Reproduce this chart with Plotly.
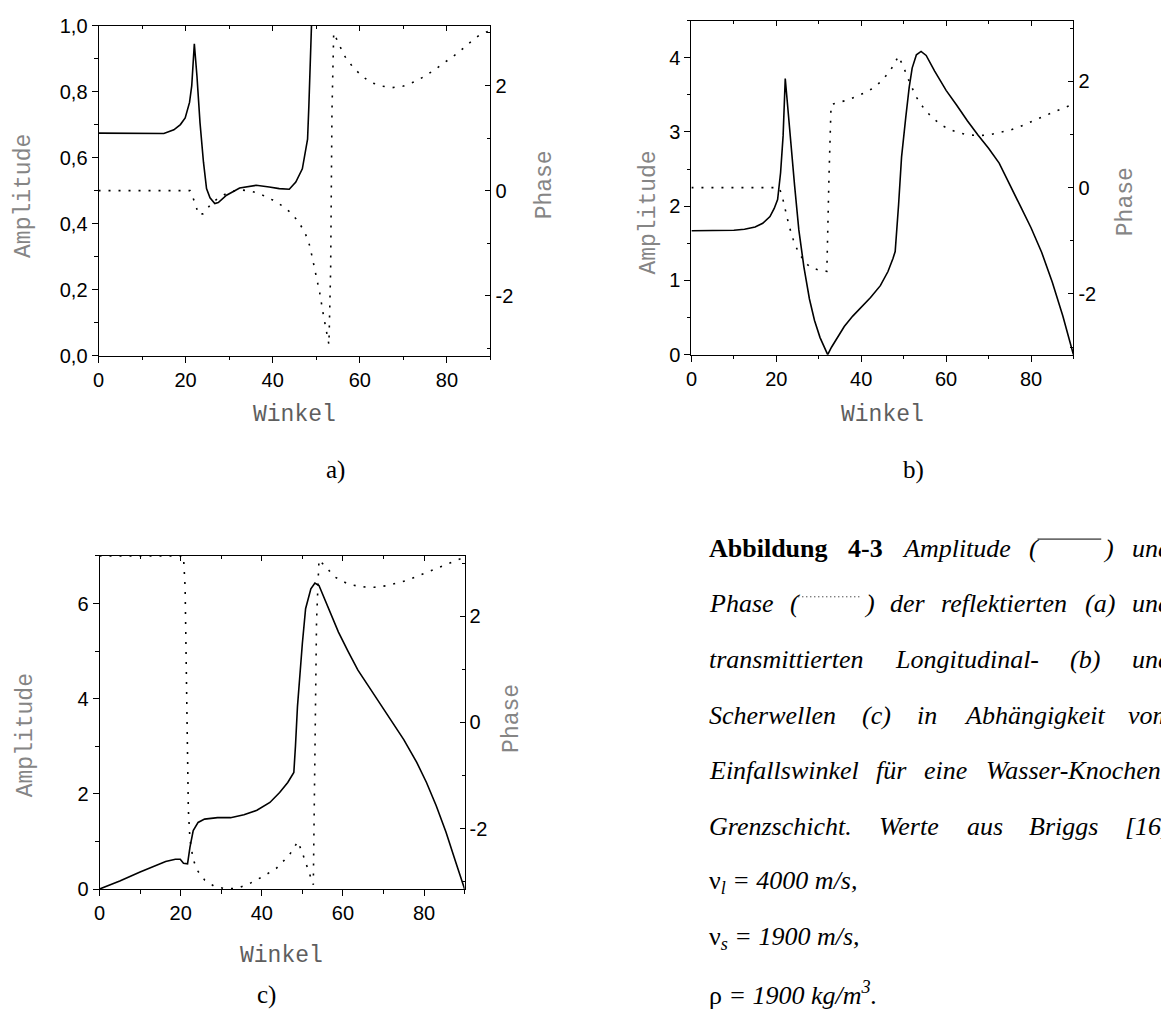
import plotly.graph_objects as go

# ---------------- data ----------------
# Panel a) reflected wave
angle_a_amp = [0, 5, 10, 15, 17.3, 18.8, 19.9, 20.9, 21.4, 22.0, 22.6, 23.3, 24.1, 24.8,
               25.6, 26.7, 27.5, 29.4, 32.4, 36.2, 39.2, 41.5, 43.8, 45.3, 46.8, 48.0,
               48.3, 48.9]
amp_a = [0.674, 0.673, 0.672, 0.673, 0.684, 0.70, 0.72, 0.767, 0.817, 0.945, 0.847, 0.706,
         0.586, 0.506, 0.478, 0.461, 0.464, 0.486, 0.508, 0.516, 0.511, 0.506, 0.504, 0.526,
         0.566, 0.656, 0.757, 1.0]
angle_a_phase = [0, 5, 10, 15, 20, 21.0, 22.0, 23.0, 24.0, 25.0, 26.0, 27.5, 29.5, 31.5,
                 33.0, 35.0, 37.0, 40.0, 42.0, 44.0, 46.0, 47.5, 48.5, 49.2, 50.0, 50.8,
                 51.6, 52.3, 52.9, 53.3, 53.6, 54.0, 55.0, 56.5, 58.5, 60.5, 62.5, 65.0,
                 67.5, 70.0, 72.5, 75.0, 77.5, 80.0, 82.5, 85.0, 87.5, 90.0]
phase_a = [0, 0, 0, 0, 0, 0, -0.2, -0.46, -0.44, -0.33, -0.24, -0.14, -0.05, 0.0,
           0.01, -0.01, -0.06, -0.18, -0.28, -0.41, -0.6, -0.82, -1.05, -1.32, -1.62, -1.95,
           -2.35, -2.68, -2.93, -1.5, 1.5, 3.0, 2.82, 2.56, 2.34, 2.18, 2.06, 1.99,
           1.96, 1.99, 2.07, 2.18, 2.32, 2.47, 2.62, 2.8, 2.96, 3.05]

# Panel b) transmitted longitudinal wave
angle_b_amp = [0, 5, 10, 12.5, 15, 16.8, 18.5, 19.5, 20.3, 21.0, 21.6, 22.1, 22.6, 23.3,
               24.3, 25.3, 26.5, 27.8, 29.0, 30.3, 31.3, 32.1, 33.0, 34.3, 36.0, 38.0,
               40.0, 42.2, 44.5, 46.3, 47.5, 48.0, 48.8, 49.5, 50.5, 51.3, 52.0, 53.0,
               54.1, 55.3, 57.3, 60.0, 62.5, 65.0, 67.5, 70.0, 72.5, 75.0, 77.5, 80.0,
               82.5, 85.0, 87.5, 90.0]
amp_b = [1.67, 1.67, 1.675, 1.69, 1.72, 1.77, 1.86, 1.97, 2.09, 2.45, 2.95, 3.72, 3.38, 2.95,
         2.28, 1.68, 1.18, 0.75, 0.46, 0.23, 0.09, 0.0, 0.1, 0.23, 0.38, 0.52,
         0.64, 0.77, 0.93, 1.12, 1.3, 1.39, 2.02, 2.66, 3.2, 3.6, 3.86, 4.04,
         4.085, 4.03, 3.82, 3.56, 3.36, 3.15, 2.96, 2.78, 2.58, 2.3, 2.0, 1.71,
         1.38, 0.98, 0.52, 0.0]
angle_b_phase = [0, 5, 10, 15, 20.5, 21.2, 22.0, 23.0, 24.0, 25.0, 26.5, 28.0, 30.0, 31.9,
                 32.4, 32.9, 34.5, 36.5, 39.0, 41.0, 43.0, 45.0, 47.0, 48.8, 50.2, 51.5,
                 53.0, 55.0, 57.0, 59.0, 61.0, 63.0, 65.5, 68.0, 70.0, 72.5, 75.0, 77.5,
                 80.0, 82.5, 85.0, 87.5, 90.0]
phase_b = [0, 0, 0, 0, 0, -0.1, -0.38, -0.72, -0.98, -1.18, -1.38, -1.5, -1.55, -1.575,
           0.2, 1.56, 1.6, 1.64, 1.72, 1.79, 1.88, 2.02, 2.22, 2.475, 2.22, 1.96,
           1.7, 1.46, 1.3, 1.17, 1.09, 1.03, 0.99, 0.98, 0.99, 1.03, 1.08, 1.15,
           1.24, 1.33, 1.41, 1.49, 1.57]

# Panel c) transmitted shear wave
angle_c_amp = [0, 5, 10, 13.8, 16.3, 18.7, 19.9, 20.7, 21.7, 22.3, 23.1, 24.3, 25.9, 29.1,
               32.3, 35.6, 38.8, 42.0, 44.4, 46.4, 47.9, 48.3, 48.8, 50.0, 50.8, 52.1,
               53.1, 54.1, 55.7, 57.3, 58.9, 61.3, 63.7, 66.1, 68.5, 71.8, 75.0, 78.2,
               80.6, 83.0, 85.4, 87.8, 90.0]
amp_c = [0, 0.17, 0.36, 0.5, 0.58, 0.625, 0.625, 0.54, 0.53, 0.88, 1.23, 1.4, 1.47, 1.5,
         1.5, 1.56, 1.655, 1.82, 2.03, 2.24, 2.45, 3.0, 3.84, 5.16, 5.89, 6.31,
         6.43, 6.38, 6.06, 5.72, 5.4, 4.99, 4.6, 4.29, 3.98, 3.56, 3.14, 2.66,
         2.24, 1.75, 1.2, 0.57, 0.0]
angle_c_phase = [0, 10, 20.7, 21.1, 21.5, 21.9, 22.3, 23.1, 24.3, 25.9, 28.3, 30.7, 34.0,
                 37.2, 40.4, 43.6, 46.8, 48.9, 50.0, 51.6, 52.7, 53.1, 53.5, 54.1, 55.7,
                 58.1, 61.3, 64.5, 67.7, 70.9, 75.8, 80.6, 85.4, 90.0]
phase_c = [3.14, 3.14, 3.14, 2.55, 0.67, -1.65, -2.21, -2.59, -2.81, -2.97, -3.09, -3.13, -3.13,
           -3.03, -2.9, -2.75, -2.5, -2.245, -2.46, -2.84, -3.06, -0.58, 1.92, 3.07, 2.93,
           2.74, 2.61, 2.56, 2.55, 2.58, 2.68, 2.83, 2.99, 3.12]

# tick labels / titles
phase_tickvals = [-2, 0, 2]
phase_ticktext = ["-2", "0", "2"]
x_title = "Winkel"
amp_title = "Amplitude"
phase_title = "Phase"
panel_labels = ["a)", "b)", "c)"]

# ---------------- layout helpers ----------------
W, H = 1161, 1023
PI = 3.14159


def fx(s):
    return s / W


def fy(s):
    # vertical page position (px from top) -> paper fraction
    return 1 - (1.0132 * s - 4.4) / H


TICKFONT = dict(family="Liberation Sans, Arial, sans-serif", size=20, color="black")
TITLEFONT_GRAY = dict(family="Liberation Mono, Courier New, monospace", size=23, color="#858585")
TITLEFONT_X = dict(family="Liberation Mono, Courier New, monospace", size=23, color="#5e5e5e")
SERIF = "Liberation Serif, Times New Roman, serif"

panels = [
    dict(box=(93, 487, 19, 352), ax=angle_a_amp, ay=amp_a, px=angle_a_phase, py=phase_a,
         yrange=[0, 1.0], dtick=0.2, minor=0.1, fmt=".1f",
         amp_pos=(18, 191), phase_pos=(542, 180), x_pos=(290, 412), lab_pos=(331, 467)),
    dict(box=(689, 1073, 14, 351), ax=angle_b_amp, ay=amp_b, px=angle_b_phase, py=phase_b,
         yrange=[0, 4.5], dtick=1, minor=0.5, fmt="d",
         amp_pos=(646, 208), phase_pos=(1126, 197), x_pos=(881, 412), lab_pos=(912, 467)),
    dict(box=(94, 461, 554, 890), ax=angle_c_amp, ay=amp_c, px=angle_c_phase, py=phase_c,
         yrange=[0, 7], dtick=2, minor=1, fmt="d",
         amp_pos=(20, 735), phase_pos=(508, 718), x_pos=(277, 958), lab_pos=(262, 997)),
]

fig = go.Figure()
layout = dict(width=W, height=H, margin=dict(l=0, r=0, t=0, b=0),
              paper_bgcolor="white", plot_bgcolor="white", showlegend=False,
              separators=",.")
annotations = []
shapes = []


def xname(n):
    return "xaxis" if n == 1 else f"xaxis{n}"


def yname(n):
    return "yaxis" if n == 1 else f"yaxis{n}"


def xref(n):
    return "x" if n == 1 else f"x{n}"


def yref(n):
    return "y" if n == 1 else f"y{n}"


for i, p in enumerate(panels):
    xb, xt = 2 * i + 1, 2 * i + 2
    yl, yr = 2 * i + 1, 2 * i + 2
    x0, x1, y0, y1 = p["box"]
    xdom = [fx(x0), fx(x1)]
    ydom = [fy(y1), fy(y0)]

    fig.add_trace(go.Scatter(x=p["ax"], y=p["ay"], mode="lines",
                             line=dict(color="black", width=1.6),
                             xaxis=xref(xb), yaxis=yref(yl), hoverinfo="skip"))
    fig.add_trace(go.Scatter(x=p["px"], y=p["py"], mode="lines",
                             line=dict(color="black", width=1.6, dash="2px,8px"),
                             xaxis=xref(xt), yaxis=yref(yr), hoverinfo="skip"))

    common = dict(showline=True, linecolor="black", linewidth=1, showgrid=False,
                  zeroline=False, tickcolor="black", tickwidth=1, tickfont=TICKFONT,
                  ticklabeloverflow="allow")
    layout[xname(xb)] = dict(domain=xdom, range=[0, 90], tick0=0, dtick=20,
                             ticks="outside", ticklen=6, anchor=yref(yl),
                             minor=dict(dtick=10, ticks="outside", ticklen=3.5,
                                        tickcolor="black", tickwidth=1),
                             **common)
    layout[xname(xt)] = dict(overlaying=xref(xb), side="top", anchor=yref(yl),
                             range=[0, 90], tick0=0, dtick=20, ticks="inside", ticklen=5,
                             showticklabels=False,
                             minor=dict(dtick=10, ticks="inside", ticklen=3,
                                        tickcolor="black", tickwidth=1),
                             **common)
    layout[yname(yl)] = dict(domain=ydom, range=p["yrange"], tick0=0, dtick=p["dtick"],
                             tickformat=p["fmt"], ticks="outside", ticklen=6,
                             anchor=xref(xb),
                             minor=dict(dtick=p["minor"], ticks="outside", ticklen=3.5,
                                        tickcolor="black", tickwidth=1),
                             **common)
    layout[yname(yr)] = dict(overlaying=yref(yl), side="right", anchor=xref(xt),
                             range=[-PI, PI], tickmode="array", tickvals=phase_tickvals,
                             ticktext=phase_ticktext, ticks="inside", ticklen=5,
                             minor=dict(tickmode="linear", tick0=-3, dtick=1, ticks="inside",
                                        ticklen=3, tickcolor="black", tickwidth=1),
                             **common)

    ax_, ay_ = p["amp_pos"]
    annotations.append(dict(text=amp_title, x=fx(ax_), y=fy(ay_), xref="paper", yref="paper",
                            textangle=-90, showarrow=False, font=TITLEFONT_GRAY,
                            xanchor="center", yanchor="middle"))
    px_, py_ = p["phase_pos"]
    annotations.append(dict(text=phase_title, x=fx(px_), y=fy(py_), xref="paper", yref="paper",
                            textangle=-90, showarrow=False, font=TITLEFONT_GRAY,
                            xanchor="center", yanchor="middle"))
    wx, wy = p["x_pos"]
    annotations.append(dict(text=x_title, x=fx(wx), y=fy(wy), xref="paper", yref="paper",
                            showarrow=False, font=TITLEFONT_X,
                            xanchor="center", yanchor="middle"))
    lx, ly = p["lab_pos"]
    annotations.append(dict(text=panel_labels[i], x=fx(lx), y=fy(ly), xref="paper", yref="paper",
                            showarrow=False, font=dict(family=SERIF, size=25, color="black"),
                            xanchor="center", yanchor="middle"))

# ---------------- caption (justified, one annotation per word) ----------------
CAP_FS = 26
CAP_LEFT, CAP_RIGHT = 706, 1170
CAP_TOP, CAP_STEP = 546, 56.2
SAMPLE_W = 66

ITALIC_W = dict(a=.5, b=.5, c=.444, d=.5, e=.444, f=.278, g=.5, h=.5, i=.278, j=.278, k=.444,
                l=.278, m=.722, n=.5, o=.5, p=.5, q=.5, r=.389, s=.389, t=.278, u=.5, v=.444,
                w=.667, x=.444, y=.444, z=.389)
ITALIC_W.update({"ä": .5, "ü": .5, "A": .611, "B": .611, "E": .611, "G": .722, "K": .667,
                 "L": .556, "P": .611, "S": .5, "W": .833, "(": .333, ")": .333, "-": .333,
                 ".": .25, ",": .25, "[": .389, "]": .389, "1": .5, "6": .5})
BOLD_W = {"A": .722, "b": .556, "i": .278, "l": .278, "d": .556, "u": .556, "n": .556,
          "g": .5, "4": .5, "-": .333, "3": .5}

caption_lines = [
    [("Abbildung", "b"), ("4-3", "b"), ("Amplitude", "i"), ("solid", "sample"), ("und", "i")],
    [("Phase", "i"), ("dot", "sample"), ("der", "i"), ("reflektierten", "i"), ("(a)", "i"),
     ("und", "i")],
    [("transmittierten", "i"), ("Longitudinal-", "i"), ("(b)", "i"), ("und", "i")],
    [("Scherwellen", "i"), ("(c)", "i"), ("in", "i"), ("Abhängigkeit", "i"), ("vom", "i")],
    [("Einfallswinkel", "i"), ("für", "i"), ("eine", "i"), ("Wasser-Knochen-", "i")],
    [("Grenzschicht.", "i"), ("Werte", "i"), ("aus", "i"), ("Briggs", "i"), ("[16]", "i")],
]
caption_plain = [
    "ν<sub><i>l</i></sub><i> = 4000 m/s,</i>",
    "ν<sub><i>s</i></sub><i> = 1900 m/s,</i>",
    "ρ<i> = 1900 kg/m<sup>3</sup>.</i>",
]


def word_width(txt, style):
    if style == "sample":
        return 2 * 0.333 * CAP_FS + SAMPLE_W
    table = BOLD_W if style == "b" else ITALIC_W
    return sum(table.get(ch, 0.5) for ch in txt) * CAP_FS


def cap_annot(txt, x, yc):
    return dict(text=txt, x=fx(x), y=fy(yc), xref="paper", yref="paper", showarrow=False,
                font=dict(family=SERIF, size=CAP_FS, color="black"),
                xanchor="left", yanchor="middle", borderpad=0)


for li, words in enumerate(caption_lines):
    yc = CAP_TOP + CAP_STEP * li
    widths = [word_width(t, s) for t, s in words]
    gap = (CAP_RIGHT - CAP_LEFT - sum(widths)) / (len(words) - 1)
    x = CAP_LEFT
    for (txt, style), wdt in zip(words, widths):
        if style == "sample":
            annotations.append(cap_annot("<i>(</i>", x, yc))
            sx0 = x + 0.333 * CAP_FS + 1
            sx1 = sx0 + SAMPLE_W - 2
            annotations.append(cap_annot("<i>)</i>", sx1 + 1, yc))
            if txt == "solid":
                shapes.append(dict(type="line", xref="paper", yref="paper",
                                   x0=fx(sx0), x1=fx(sx1), y0=fy(yc - 9), y1=fy(yc - 9),
                                   line=dict(color="black", width=1)))
            else:
                shapes.append(dict(type="line", xref="paper", yref="paper",
                                   x0=fx(sx0), x1=fx(sx1), y0=fy(yc - 7), y1=fy(yc - 7),
                                   line=dict(color="black", width=1, dash="1px,3px")))
        else:
            tag = "b" if style == "b" else "i"
            annotations.append(cap_annot(f"<{tag}>{txt}</{tag}>", x, yc))
        x += wdt + gap

for k, txt in enumerate(caption_plain):
    yc = CAP_TOP + CAP_STEP * (len(caption_lines) + k)
    annotations.append(cap_annot(txt, CAP_LEFT, yc))

layout["annotations"] = annotations
layout["shapes"] = shapes
fig.update_layout(**layout)
fig.write_html("out.html", config={"displayModeBar": False},
               post_script="document.body.style.margin='0px';")
